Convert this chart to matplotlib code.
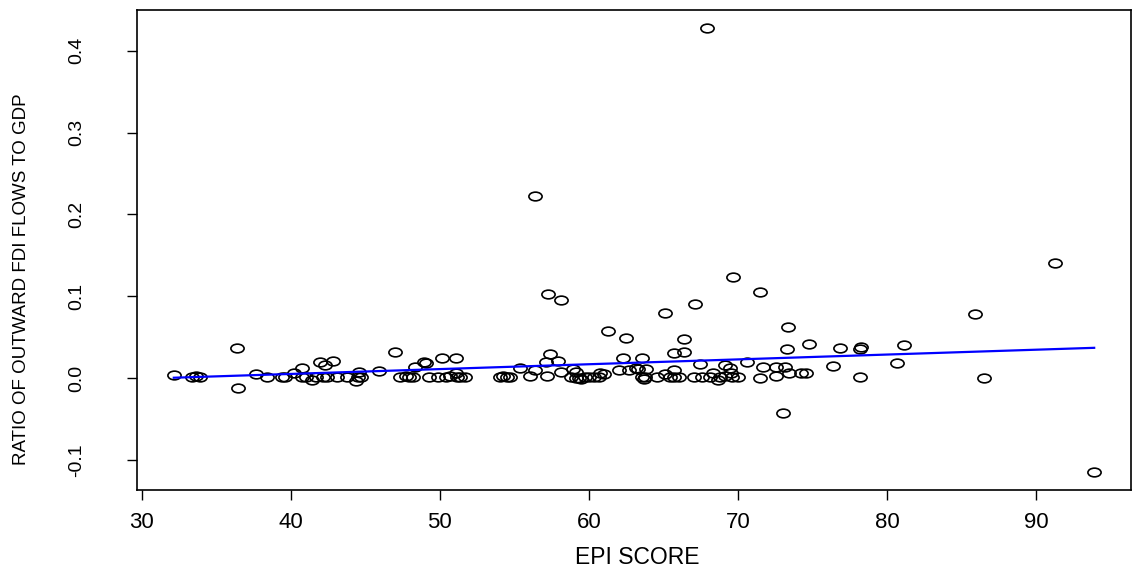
import numpy as np
import matplotlib
matplotlib.use("Agg")
import matplotlib.pyplot as plt
from matplotlib.path import Path
from matplotlib.transforms import Affine2D

# ---- data ----
epi_score = [
    32.16, 33.38, 33.65, 33.9, 36.37, 36.49, 37.66, 38.44, 39.41, 39.63,
    40.19, 40.79, 40.74, 41.03, 41.41, 41.68, 41.94, 42.3, 42.85, 42.16,
    42.45, 43.12, 43.8, 44.52, 44.41, 44.74, 44.6, 45.95, 47.0, 47.35,
    47.73, 47.95, 48.18, 48.33, 48.91, 49.06, 49.28, 49.88, 50.13, 50.39,
    50.72, 51.06, 51.12, 51.17, 51.39, 51.72, 54.05, 54.27, 54.5, 54.72,
    55.38, 56.05, 56.38, 56.38, 57.38, 57.16, 57.93, 57.2, 57.27, 58.16,
    58.16, 58.93, 59.16, 58.82, 59.16, 59.37, 59.5, 59.71, 60.04, 60.37,
    60.70, 61.04, 60.77, 61.26, 62.48, 62.26, 62.04, 62.7, 63.15, 63.32,
    63.55, 63.85, 63.6, 63.7, 63.8, 64.58, 65.1, 65.14, 65.47, 65.7,
    66.03, 65.7, 65.7, 66.41, 66.41, 67.14, 67.43, 67.03, 67.58, 67.9,
    68.14, 68.36, 68.69, 68.8, 69.13, 69.13, 69.47, 69.53, 69.58, 69.64,
    70.02, 70.64, 71.46, 71.68, 71.46, 72.57, 72.57, 73.0, 73.17, 73.28,
    73.35, 73.46, 74.23, 74.57, 74.79, 76.37, 76.85, 78.18, 78.18, 78.29,
    80.66, 81.15, 85.9, 86.5, 91.3, 93.9,
]
fdi_ratio = [
    0.004, 0.001, 0.002, 0.001, 0.037, -0.012, 0.005, 0.001, 0.001, 0.001,
    0.0065, 0.012, 0.0015, 0.0015, -0.002, 0.0015, 0.020, 0.0155, 0.021, 0.0015,
    0.0015, 0.0015, 0.0015, 0.0015, -0.0037, 0.0015, 0.008, 0.009, 0.0315, 0.0015,
    0.003, 0.0015, 0.0015, 0.0135, 0.020, 0.018, 0.001, 0.001, 0.024, 0.0015,
    0.003, 0.024, 0.0065, 0.0015, 0.0015, 0.001, 0.0015, 0.0025, 0.0015, 0.0015,
    0.012, 0.003, 0.0094, 0.222, 0.029, 0.0196, 0.0205, 0.003, 0.1025, 0.0955,
    0.008, 0.0114, 0.008, 0.001, 0.0, 0.0, -0.0005, 0.001, 0.001, 0.001,
    0.001, 0.0045, 0.0057, 0.058, 0.049, 0.025, 0.010, 0.0094, 0.0126, 0.0106,
    0.025, 0.0106, 0.0015, -0.001, 0.0015, 0.0015, 0.079, 0.0045, 0.0015, 0.0015,
    0.0015, 0.0098, 0.031, 0.032, 0.048, 0.091, 0.0168, 0.0015, 0.0015, 0.428,
    0.0015, 0.0065, -0.0025, 0.0015, 0.003, 0.0155, 0.0126, 0.0065, 0.0015, 0.123,
    0.0015, 0.0196, 0.105, 0.0135, 0.0, 0.0135, 0.0025, -0.0425, 0.0135, 0.036,
    0.063, 0.0065, 0.0065, 0.0065, 0.042, 0.0147, 0.037, 0.001, 0.035, 0.038,
    0.018, 0.040, 0.078, 0.0, 0.141, -0.115,
]
# fitted line
fit_intercept = -0.0186
fit_slope = 0.000592

x_ticks = [30, 40, 50, 60, 70, 80, 90]
y_ticks = [-0.1, 0.0, 0.1, 0.2, 0.3, 0.4]
y_tick_labels = ["-0.1", "0.0", "0.1", "0.2", "0.3", "0.4"]
x_label = "EPI SCORE"
y_label = "RATIO OF OUTWARD FDI FLOWS TO GDP"

# ---- figure ----
fig = plt.figure(figsize=(11.36, 5.70), dpi=100)
ax = fig.add_axes([137 / 1136, 1 - 490 / 570, (1131 - 137) / 1136, (490 - 10) / 570])

x = np.array(epi_score)
y = np.array(fdi_ratio)

# elliptical open marker (reference circles appear slightly flattened)
circ = Path.unit_circle()
ell = Affine2D().scale(1.0, 0.66).transform_path(circ)

ax.plot(x, y, linestyle="none", marker=ell, markersize=9.5,
        markerfacecolor="none", markeredgecolor="black", markeredgewidth=1.2)

xl = np.array([x.min(), x.max()])
ax.plot(xl, fit_intercept + fit_slope * xl, color="#0000ff", linewidth=1.6)

# R-like limits: 4% padding
xr = x.max() - x.min()
yr = y.max() - y.min()
ax.set_xlim(x.min() - 0.04 * xr, x.max() + 0.04 * xr)
ax.set_ylim(y.min() - 0.04 * yr, y.max() + 0.04 * yr)

ax.set_xticks(x_ticks)
ax.set_xticklabels([str(t) for t in x_ticks], fontsize=16, family="Liberation Sans")
ax.set_yticks(y_ticks)
ax.set_yticklabels(y_tick_labels, fontsize=14, family="Liberation Sans",
                   rotation=90, va="center")

ax.tick_params(axis="both", direction="out", length=7, width=1, color="black")
ax.tick_params(axis="x", pad=9)
ax.tick_params(axis="y", pad=30)
for s in ax.spines.values():
    s.set_linewidth(1.2)
    s.set_color("black")

fig.text(637 / 1136, 1 - 558 / 570, x_label, ha="center", va="center",
         fontsize=16.5, family="Liberation Sans")
fig.text(22 / 1136, 1 - 279 / 570, y_label, ha="center", va="center", rotation=90,
         fontsize=13.5, family="Liberation Sans")

fig.savefig("out.png", dpi=100)
